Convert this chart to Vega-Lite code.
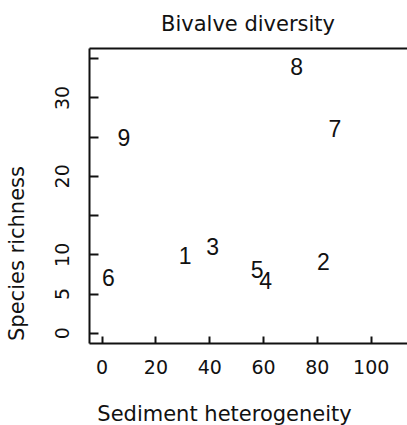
{
  "$schema": "https://vega.github.io/schema/vega-lite/v6.json",
  "autosize": "none",
  "padding": {"left": 89, "top": 48, "right": 0, "bottom": 82},
  "width": 318,
  "height": 295,
  "background": "white",
  "config": {
    "view": {"stroke": null},
    "font": "DejaVu Sans",
    "axis": {"grid": false, "domainColor": "#111", "domainWidth": 2, "tickColor": "#111", "tickWidth": 2, "labelColor": "#111", "titleColor": "#111", "labelFont": "DejaVu Sans", "titleFont": "DejaVu Sans", "titleFontWeight": "normal"}
  },
  "title": {"text": "Bivalve diversity", "font": "DejaVu Sans", "fontSize": 21, "fontWeight": "normal", "color": "#111", "anchor": "middle", "frame": "group", "baseline": "alphabetic", "offset": -4},
  "data": {"values": [
    {"site": "1", "heterogeneity": 31.0, "richness": 9.7},
    {"site": "2", "heterogeneity": 82.4, "richness": 8.85},
    {"site": "3", "heterogeneity": 41.3, "richness": 10.85},
    {"site": "4", "heterogeneity": 61.0, "richness": 6.5},
    {"site": "5", "heterogeneity": 57.8, "richness": 7.9},
    {"site": "6", "heterogeneity": 2.5, "richness": 6.8},
    {"site": "7", "heterogeneity": 86.7, "richness": 25.9},
    {"site": "8", "heterogeneity": 72.5, "richness": 33.7},
    {"site": "9", "heterogeneity": 8.3, "richness": 24.7}
  ]},
  "layer": [
    {
      "mark": {"type": "text", "font": "Liberation Sans", "fontSize": 23, "color": "#111", "align": "center", "baseline": "middle"},
      "encoding": {
        "x": {"field": "heterogeneity", "type": "quantitative", "scale": {"domain": [-4.7, 113.5], "nice": false, "zero": false},
          "axis": {"orient": "bottom", "title": "Sediment heterogeneity", "values": [0, 20, 40, 60, 80, 100], "tickSize": -7, "labelPadding": 22, "labelFontSize": 19, "labelAngle": 0, "titleFontSize": 21, "titlePadding": 26, "titleX": 135}},
        "y": {"field": "richness", "type": "quantitative", "scale": {"domain": [-1.31, 36.3], "nice": false, "zero": false},
          "axis": {"title": "Species richness", "values": [0, 5, 10, 15, 20, 25, 30, 35], "labelExpr": "datum.value == 15 || datum.value == 25 || datum.value == 35 ? '' : datum.label", "tickSize": -9, "labelPadding": 26, "labelAngle": -90, "labelFontSize": 19, "titleFontSize": 21, "titlePadding": 26, "titleY": 205}},
        "text": {"field": "site"}
      }
    },
    {
      "mark": {"type": "text", "opacity": 0},
      "encoding": {
        "x": {"field": "heterogeneity", "type": "quantitative", "axis": {"orient": "top", "title": null, "labels": false, "ticks": false, "domain": true}},
        "text": {"field": "site"}
      }
    }
  ],
  "resolve": {"axis": {"x": "independent"}}
}
